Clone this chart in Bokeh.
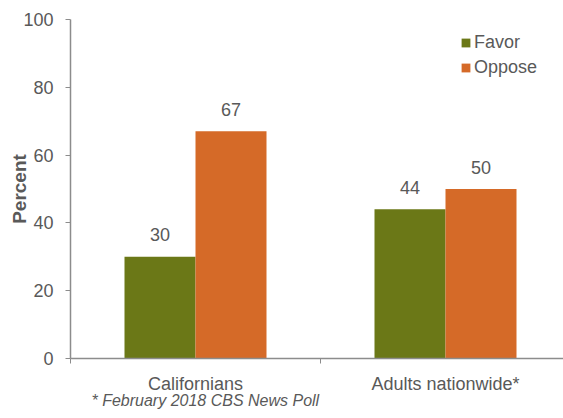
from bokeh.plotting import figure
from bokeh.models import (ColumnDataSource, Range1d, FixedTicker, Legend, LegendItem,
                          Title)
from bokeh.core.properties import value
from bokeh.embed import file_html
from bokeh.resources import INLINE

categories = ["Californians", "Adults nationwide*"]
favor = [30, 44]
oppose = [67, 50]
series_names = ["Favor", "Oppose"]
y_ticks = [0, 20, 40, 60, 80, 100]
footnote = "* February 2018 CBS News Poll"

FONT = "Liberation Sans"
GREEN = "#6B7817"
ORANGE = "#D56A28"
TEXT = "#595959"
AXIS = "#8C8C8C"

centers = [i + 0.5 for i in range(len(categories))]
bw = 0.284

src_f = ColumnDataSource(dict(x=[c - bw / 2 for c in centers], top=favor,
                              lab=[str(v) for v in favor]))
src_o = ColumnDataSource(dict(x=[c + bw / 2 for c in centers], top=oppose,
                              lab=[str(v) for v in oppose]))

p = figure(width=563, height=418, output_backend="svg", toolbar_location=None,
           x_range=Range1d(0, 493 / 250), y_range=Range1d(0, 100),
           min_border_left=70, min_border_right=0, min_border_top=19,
           min_border_bottom=60)
p.outline_line_color = None
p.xgrid.grid_line_color = None
p.ygrid.grid_line_color = None
p.background_fill_color = "white"
p.border_fill_color = "white"

rf = p.vbar(x="x", top="top", width=bw, bottom=0, source=src_f,
            fill_color=GREEN, line_color=None)
ro = p.vbar(x="x", top="top", width=bw, bottom=0, source=src_o,
            fill_color=ORANGE, line_color=None)

for s in (src_f, src_o):
    p.text(x="x", y="top", text="lab", source=s, text_align="center",
           text_baseline="alphabetic", y_offset=-22,
           text_font=value(FONT), text_font_size="18px", text_color=TEXT)

# y axis
ya = p.yaxis[0]
ya.ticker = FixedTicker(ticks=y_ticks)
ya.minor_tick_line_color = None
ya.major_tick_out = 5
ya.major_tick_in = 0
ya.major_tick_line_color = AXIS
ya.axis_line_color = AXIS
ya.axis_line_width = 1.5
ya.major_label_text_font = FONT
ya.major_label_text_font_size = "18px"
ya.major_label_text_color = TEXT
ya.major_label_standoff = 12
ya.axis_label = "Percent"
ya.axis_label_text_font = FONT
ya.axis_label_text_font_size = "19px"
ya.axis_label_text_font_style = "bold"
ya.axis_label_text_color = TEXT
ya.axis_label_standoff = -10

# x axis
xa = p.xaxis[0]
xa.ticker = FixedTicker(ticks=centers, minor_ticks=[0, 1, 2])
xa.major_label_overrides = {c: n for c, n in zip(centers, categories)}
xa.major_tick_line_color = None
xa.major_tick_out = 0
xa.major_tick_in = 0
xa.minor_tick_out = 5
xa.minor_tick_in = 0
xa.minor_tick_line_color = AXIS
xa.axis_line_color = AXIS
xa.axis_line_width = 1.5
xa.major_label_text_font = FONT
xa.major_label_text_font_size = "18px"
xa.major_label_text_color = TEXT
xa.major_label_standoff = 10

legend = Legend(items=[LegendItem(label=series_names[0], renderers=[rf]),
                       LegendItem(label=series_names[1], renderers=[ro])],
                location=(390, 280), orientation="vertical")
legend.border_line_color = None
legend.background_fill_alpha = 0
legend.padding = 0
legend.margin = 0
legend.spacing = 3
legend.glyph_width = 11
legend.glyph_height = 11
legend.label_height = 22
legend.label_standoff = 3
legend.label_text_font = FONT
legend.label_text_font_size = "18px"
legend.label_text_color = TEXT
p.add_layout(legend)

note = Title(text=footnote, align="left", offset=21, text_font=FONT,
             text_font_size="16px", text_font_style="italic",
             text_color=TEXT, standoff=-13)
p.add_layout(note, "below")

open("out.html", "w").write(file_html(p, INLINE))
